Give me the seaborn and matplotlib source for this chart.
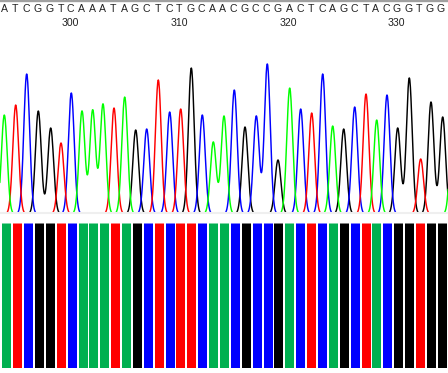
import numpy as np
import pandas as pd
import matplotlib
matplotlib.use('Agg')
import matplotlib.pyplot as plt
import seaborn as sns

# Base calls along the top of the trace
base_calls = list('ATCGGTCAAATAGCTCTGCAACGCCGACTCAGCTACGGTGG')
call_scan = [4, 15, 26, 37.3, 49.3, 60.7, 70.7, 81.7, 92.3, 102, 113.3, 124, 135, 146.7,
             157.7, 169, 179.3, 190.7, 201.3, 212.3, 222, 233.3, 244.7, 255.7, 266.7,
             277.3, 289, 300.3, 311.3, 322.3, 332.3, 343.3, 354, 365.7, 375.7, 386.3,
             397, 408.3, 419.3, 430, 441]
position_scan = [70, 179, 288, 396]
position_labels = [300, 310, 320, 330]

# Peaks (the last one sits just past the right edge)
peak_base = base_calls + ['A']
peak_scan = [4.3, 15.7, 26.7, 38.3, 50.7, 61, 71.3, 82, 92.7, 103, 114, 124.7, 135.7, 146.7,
             158.3, 169.7, 180.7, 191.3, 202.3, 213.3, 224, 234.3, 245, 256.3, 267.3,
             278, 289.7, 300.7, 311.7, 322.7, 332.7, 343.7, 354.7, 366, 376.7, 387,
             397.7, 409.3, 420.7, 431, 442.7, 453]
peak_height = [99, 109, 140, 103, 86, 71, 121, 103, 104, 110, 106, 117, 84, 85,
               134, 102, 105, 146, 99, 72, 98, 124, 87, 98, 150,
               54, 126, 105, 101, 140, 88, 85, 107, 120, 94, 119,
               86, 136, 55, 112, 97, 100]

# Quality strip along the bottom
bar_scan = [6.5, 17.5, 28.5, 39.5, 50.5, 61.5, 72.5, 83.5, 93.5, 104.5, 115.5, 126.5, 137.5,
            148.5, 159.5, 170.5, 180.5, 191.5, 202.5, 213.5, 224.5, 235.5, 246.5, 257.5,
            268.5, 278.5, 289.5, 300.5, 311.5, 322.5, 333.5, 344.5, 355.5, 366.5, 376.5,
            387.5, 398.5, 409.5, 420.5, 431.5, 442.5]
bar_base = list('ATCGGTCAAATAGCTCTTCAACGCCGACTCAGCTACGGTGG')
bar_quality = [1] * 41

trace_colors = {'A': '#00FF00', 'T': '#FF0000', 'C': '#0000FF', 'G': '#000000'}
bar_colors = {'A': '#00B050', 'T': '#FF0000', 'C': '#0000FF', 'G': '#000000'}
peak_sigma = 2.93


def peak_width(kde):
    # every channel gets the same peak width, whatever its spread
    return peak_sigma / np.sqrt(np.cov(kde.dataset, aweights=kde.weights, bias=False))


peaks = pd.DataFrame({'scan': peak_scan, 'height': peak_height, 'base': peak_base})
bars = pd.DataFrame({'scan': bar_scan, 'quality': bar_quality, 'base': bar_base})

sns.set_style('white')
plt.rcParams['font.family'] = ['Liberation Sans', 'DejaVu Sans']

W, H = 448, 373
fig = plt.figure(figsize=(W / 100, H / 100), dpi=100)

# Trace panel
ax = fig.add_axes([0, (H - 213) / H, 1, 213 / H])
sns.kdeplot(data=peaks, x='scan', weights='height', hue='base', palette=trace_colors,
            hue_order=['A', 'T', 'C', 'G'], bw_method=peak_width, gridsize=1500,
            common_norm=True, legend=False, linewidth=1.05, ax=ax)

# density per pixel of peak height
scale = 1 / (peaks['height'].sum() * peak_sigma * np.sqrt(2 * np.pi))
ax.set_xlim(0, W)
ax.set_ylim(1 * scale, 214 * scale)
ax.set_xticks([])
ax.set_yticks([])
ax.set_xlabel('')
ax.set_ylabel('')
for side in ['left', 'right']:
    ax.spines[side].set_visible(False)
ax.spines['top'].set_color('#A0A0A0')
ax.spines['top'].set_linewidth(2.4)
ax.spines['bottom'].set_color('#EFEFEF')
ax.spines['bottom'].set_linewidth(1.5)

label_tf = ax.get_xaxis_transform()
for x, letter in zip(call_scan, base_calls):
    ax.text(x, 1 - 8.5 / 213, letter, transform=label_tf, ha='center', va='center',
            fontsize=7.6, color='#222222')
for x, label in zip(position_scan, position_labels):
    ax.text(x, 1 - 22.5 / 213, str(label), transform=label_tf, ha='center', va='center',
            fontsize=7.6, color='#222222')

# Quality strip
ax2 = fig.add_axes([0, (H - 368) / H, 1, 146 / H])
sns.barplot(data=bars, x='scan', y='quality', hue='base', palette=bar_colors, dodge=False,
            native_scale=True, width=0.9, legend=False, saturation=1, errorbar=None,
            edgecolor='none', linewidth=0, ax=ax2)
ax2.set_xlim(0, W)
ax2.set_ylim(0, 146 / 144.5)
for bar in ax2.patches:
    bar.set_snap(False)
ax2.axis('off')

fig.savefig('out.png', dpi=100)
